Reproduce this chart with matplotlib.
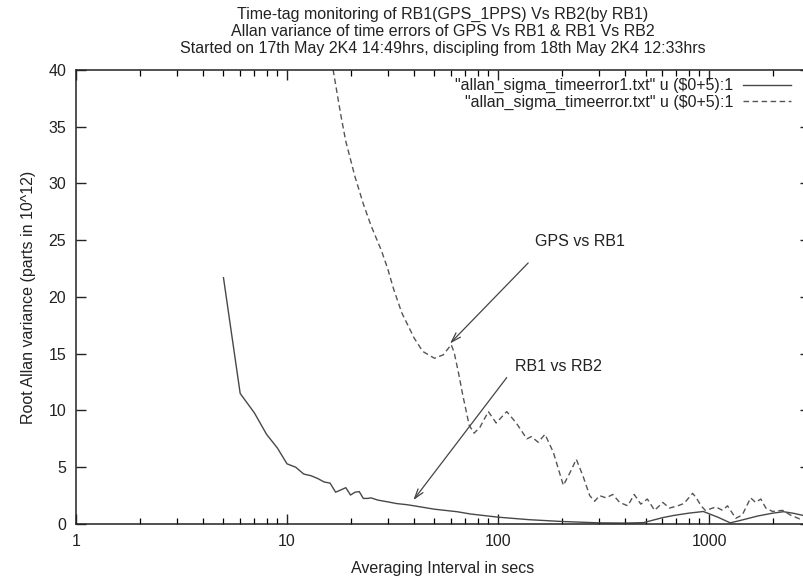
import matplotlib
matplotlib.use("Agg")
import matplotlib.pyplot as plt
from matplotlib.ticker import LogLocator, NullFormatter, FixedLocator

plt.rcParams['font.family'] = ['Liberation Sans', 'DejaVu Sans']

# RB1 vs RB2 : allan_sigma_timeerror1.txt, plotted against ($0+5)
tau_rb = [5, 6, 7, 8, 9, 10, 11, 12, 13, 14, 15, 16, 17, 18, 19, 20, 21, 22,
          23, 24, 25, 27, 30, 33, 37, 40, 50, 64, 74, 100, 140, 200, 300, 400,
          490, 600, 680, 800, 940, 1100, 1260, 1400, 1700, 2000, 2250, 2500, 2800]
sigma_rb = [21.7, 11.5, 9.8, 7.9, 6.7, 5.3, 5.0, 4.4, 4.25, 4.0, 3.7, 3.6, 2.8,
            3.0, 3.2, 2.55, 2.8, 2.85, 2.25, 2.25, 2.3, 2.1, 1.95, 1.8, 1.7,
            1.6, 1.3, 1.08, 0.88, 0.6, 0.38, 0.22, 0.1, 0.08, 0.12, 0.55, 0.75,
            0.95, 1.1, 0.6, 0.1, 0.3, 0.7, 0.95, 1.08, 0.95, 0.75]

# GPS vs RB1 : allan_sigma_timeerror.txt, plotted against ($0+5)
tau_gps = [16, 18, 19, 21, 23, 25, 28, 30, 32, 35, 40, 44, 50, 55, 60, 62, 65,
           68, 73, 77, 82, 90, 98, 110, 122, 137, 144, 155, 167, 183, 204, 219,
           235, 253, 272, 287, 303, 325, 350, 377, 412, 442, 475, 510, 552, 604,
           649, 711, 760, 836, 870, 917, 960, 1003, 1078, 1159, 1223, 1339,
           1438, 1574, 1663, 1759, 1860, 2000, 2233, 2450, 2690, 2820]
sigma_gps = [41.6, 36.0, 33.7, 30.6, 28.2, 26.3, 24.1, 22.5, 20.7, 18.6, 16.4,
             15.2, 14.6, 14.9, 15.8, 15.1, 13.3, 11.4, 8.7, 8.0, 8.5, 9.9, 8.9,
             9.9, 8.9, 7.5, 7.7, 7.2, 7.9, 6.3, 3.4, 4.5, 5.7, 4.2, 2.5, 2.0,
             2.5, 2.3, 2.6, 1.9, 1.6, 2.6, 1.75, 2.2, 1.2, 1.9, 1.4, 1.6, 1.8,
             2.7, 2.3, 1.6, 1.2, 1.3, 1.5, 1.2, 1.6, 0.5, 0.8, 2.3, 1.9, 2.2,
             1.4, 1.1, 1.2, 0.75, 0.45, 0.6]

labels = ['"allan_sigma_timeerror1.txt" u ($0+5):1',
          '"allan_sigma_timeerror.txt" u ($0+5):1']
title_lines = ["Time-tag monitoring of RB1(GPS_1PPS) Vs RB2(by RB1)",
               "Allan variance of time errors of GPS Vs RB1 & RB1 Vs RB2",
               "Started on 17th May 2K4 14:49hrs, discipling from 18th May 2K4 12:33hrs"]
y_ticks = [0, 5, 10, 15, 20, 25, 30, 35, 40]
x_ticks = [1, 10, 100, 1000]

ink = "#222222"
fs = 11.5
fig = plt.figure(figsize=(8.04, 5.77), dpi=100)
ax = fig.add_axes([0.0945, 0.0919, 0.9126, 0.7868])

ax.plot(tau_rb, sigma_rb, color="#484848", lw=1.0, label=labels[0])
ax.plot(tau_gps, sigma_gps, color="#555555", lw=1.0, dashes=(4, 2.5),
        label=labels[1])

ax.set_xscale("log")
ax.set_xlim(1, 3000)
ax.set_ylim(0, 40)
ax.xaxis.set_major_locator(FixedLocator(x_ticks))
ax.set_xticklabels([str(t) for t in x_ticks])
ax.xaxis.set_minor_locator(LogLocator(base=10, subs=range(2, 10), numticks=20))
ax.xaxis.set_minor_formatter(NullFormatter())
ax.set_yticks(y_ticks)
ax.tick_params(axis="both", which="major", direction="in", length=7,
               width=1.0, top=True, right=True, labelsize=fs,
               colors=ink, pad=7)
ax.tick_params(axis="x", which="minor", direction="in", length=4,
               width=0.9, top=True, bottom=True)
for s in ax.spines.values():
    s.set_linewidth(1.1)
    s.set_color(ink)

ax.set_xlabel("Averaging Interval in secs", fontsize=fs, color=ink,
              labelpad=9)
ax.set_ylabel("Root Allan variance (parts in 10^12)", fontsize=fs,
              color=ink, labelpad=9)
ax.set_title("\n".join(title_lines), fontsize=fs, color=ink,
             linespacing=1.15, pad=12.5)

leg = ax.legend(loc="upper right", bbox_to_anchor=(0.983, 0.996),
                frameon=False, markerfirst=False, fontsize=fs,
                handlelength=3.0, handletextpad=0.6, labelspacing=0.1,
                borderaxespad=0.0)
for col in leg._legend_handle_box.get_children():
    col.align = "right"
for t in leg.get_texts():
    t.set_color(ink)

arrow = dict(arrowstyle="->,head_length=0.7,head_width=0.22", color="#444444",
             lw=0.9, shrinkA=0, shrinkB=0)
ax.annotate("", xy=(59.2, 15.9), xytext=(139, 23.0), arrowprops=arrow)
ax.text(150, 24.9, "GPS vs RB1", fontsize=fs, color=ink, va="center")
ax.annotate("", xy=(39.7, 2.1), xytext=(110, 12.9), arrowprops=arrow)
ax.text(120, 13.9, "RB1 vs RB2", fontsize=fs, color=ink, va="center")

fig.savefig("out.png", dpi=100)
